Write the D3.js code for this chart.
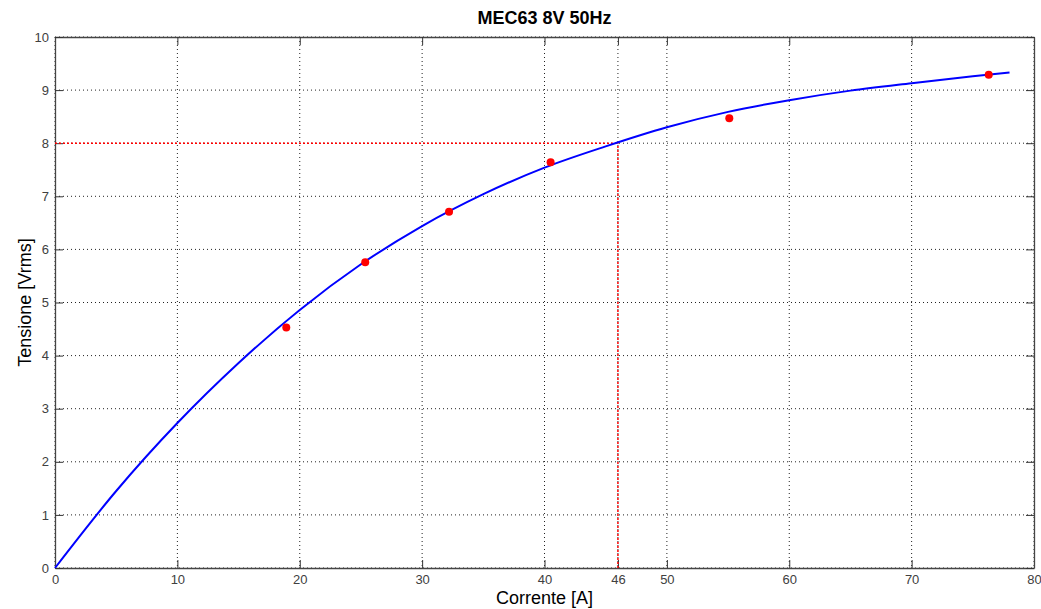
<!DOCTYPE html>
<html>
<head>
<meta charset="utf-8">
<script src="https://cdn.jsdelivr.net/npm/d3@7"></script>
<style>
  body { margin: 0; background: #fff; }
  text { font-family: "Liberation Sans", Arial, sans-serif; }
</style>
</head>
<body>
<div id="chart"></div>
<script>
// fitted curve (current A, voltage Vrms)
var curveI = [0, 5, 10, 15, 20, 25, 30, 35, 40, 45, 50, 55, 60, 65, 70, 75, 78];
var curveV = [0, 1.45, 2.73, 3.86, 4.86, 5.72, 6.44, 7.04, 7.54, 7.94, 8.30, 8.59, 8.81, 8.99, 9.13, 9.26, 9.33];

// measured points
var measI = [18.9, 25.35, 32.2, 40.5, 55.1, 76.3];
var measV = [4.53, 5.76, 6.71, 7.64, 8.47, 9.29];

var xTicks = [0, 10, 20, 30, 40, 46, 50, 60, 70, 80];
var yTicks = [0, 1, 2, 3, 4, 5, 6, 7, 8, 9, 10];
var refI = 46, refV = 8;

var width = 1041, height = 609;
var margin = { top: 37, right: 7, bottom: 41, left: 55 };
var w = width - margin.left - margin.right,
    h = height - margin.top - margin.bottom;

var svg = d3.select("#chart").append("svg")
    .attr("width", width)
    .attr("height", height);

var g = svg.append("g")
    .attr("transform", "translate(" + margin.left + "," + margin.top + ")");

var x = d3.scaleLinear().domain([0, 80]).range([0, w]);
var y = d3.scaleLinear().domain([0, 10]).range([h, 0]);

// grid
g.append("g")
    .selectAll("line")
    .data(xTicks)
    .enter().append("line")
    .attr("x1", function (d) { return x(d); })
    .attr("x2", function (d) { return x(d); })
    .attr("y1", 0).attr("y2", h)
    .attr("stroke", "#222")
    .attr("stroke-dasharray", "1,3");

g.append("g")
    .selectAll("line")
    .data(yTicks)
    .enter().append("line")
    .attr("y1", function (d) { return y(d); })
    .attr("y2", function (d) { return y(d); })
    .attr("x1", 0).attr("x2", w)
    .attr("stroke", "#222")
    .attr("stroke-dasharray", "1,3");

// axes with inward ticks on all four sides
var tickFmt = d3.format("d");
var xb = g.append("g").attr("transform", "translate(0," + h + ")")
    .call(d3.axisBottom(x).tickValues(xTicks).tickSizeInner(-8).tickSizeOuter(0).tickPadding(7).tickFormat(tickFmt));
var xt = g.append("g")
    .call(d3.axisTop(x).tickValues(xTicks).tickSizeInner(-8).tickSizeOuter(0).tickFormat(""));
var yl = g.append("g")
    .call(d3.axisLeft(y).tickValues(yTicks).tickSizeInner(-8).tickSizeOuter(0).tickPadding(6).tickFormat(tickFmt));
var yr = g.append("g").attr("transform", "translate(" + w + ",0)")
    .call(d3.axisRight(y).tickValues(yTicks).tickSizeInner(-8).tickSizeOuter(0).tickFormat(""));

[xb, xt, yl, yr].forEach(function (a) {
    a.select(".domain").attr("stroke", "#444").attr("stroke-width", 1.3);
    a.selectAll(".tick line").attr("stroke", "#333");
    a.selectAll("text").attr("font-size", 13).attr("fill", "#404040");
});

// red reference lines at 46 A / 8 V
g.append("line")
    .attr("x1", x(0)).attr("x2", x(refI))
    .attr("y1", y(refV)).attr("y2", y(refV))
    .attr("stroke", "#ff0000").attr("stroke-width", 1.5)
    .attr("stroke-dasharray", "2,2");
g.append("line")
    .attr("x1", x(refI)).attr("x2", x(refI))
    .attr("y1", y(0)).attr("y2", y(refV))
    .attr("stroke", "#ff0000").attr("stroke-width", 1.5)
    .attr("stroke-dasharray", "2,2");

// fitted curve
var line = d3.line()
    .x(function (d) { return x(d[0]); })
    .y(function (d) { return y(d[1]); })
    .curve(d3.curveMonotoneX);

g.append("path")
    .datum(d3.zip(curveI, curveV))
    .attr("d", line)
    .attr("fill", "none")
    .attr("stroke", "#0000ff")
    .attr("stroke-width", 2);

// measured points
g.selectAll(".point")
    .data(d3.zip(measI, measV))
    .enter().append("circle")
    .attr("class", "point")
    .attr("cx", function (d) { return x(d[0]); })
    .attr("cy", function (d) { return y(d[1]); })
    .attr("r", 4)
    .attr("fill", "#ff0000");

// labels
svg.append("text")
    .attr("x", margin.left + w / 2).attr("y", 24)
    .attr("text-anchor", "middle")
    .attr("font-size", 18).attr("font-weight", "bold")
    .text("MEC63 8V 50Hz");

svg.append("text")
    .attr("x", margin.left + w / 2).attr("y", 604)
    .attr("text-anchor", "middle")
    .attr("font-size", 18)
    .text("Corrente [A]");

svg.append("text")
    .attr("transform", "translate(31," + (margin.top + h / 2) + ") rotate(-90)")
    .attr("text-anchor", "middle")
    .attr("font-size", 18)
    .text("Tensione [Vrms]");
</script>
</body>
</html>
